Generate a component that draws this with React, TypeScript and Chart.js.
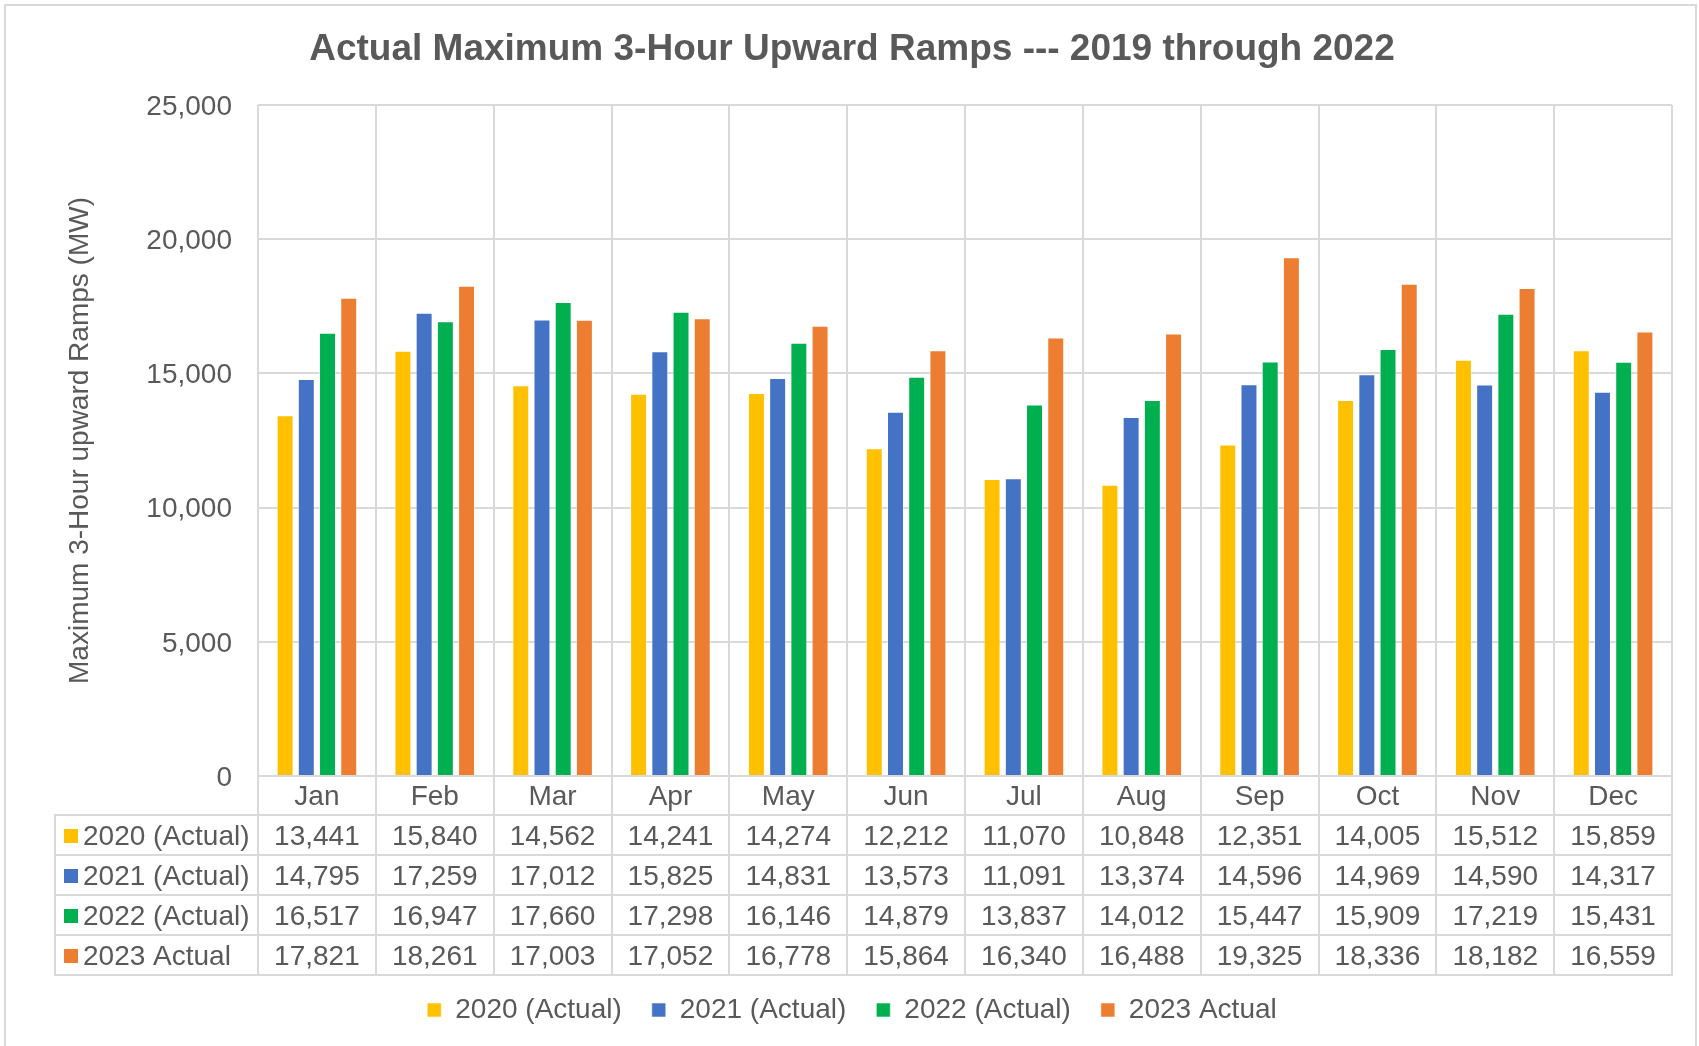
import React, { useEffect, useRef } from "react";
import { Chart, registerables } from "chart.js";

Chart.register(...registerables);

// ---------- data ----------
const MONTHS = ["Jan", "Feb", "Mar", "Apr", "May", "Jun", "Jul", "Aug", "Sep", "Oct", "Nov", "Dec"];
const SERIES_LABELS = ["2020 (Actual)", "2021 (Actual)", "2022 (Actual)", "2023 Actual"];
const VALUES_2020 = [13441, 15840, 14562, 14241, 14274, 12212, 11070, 10848, 12351, 14005, 15512, 15859];
const VALUES_2021 = [14795, 17259, 17012, 15825, 14831, 13573, 11091, 13374, 14596, 14969, 14590, 14317];
const VALUES_2022 = [16517, 16947, 17660, 17298, 16146, 14879, 13837, 14012, 15447, 15909, 17219, 15431];
const VALUES_2023 = [17821, 18261, 17003, 17052, 16778, 15864, 16340, 16488, 19325, 18336, 18182, 16559];
const Y_MIN = 0;
const Y_MAX = 25000;
const Y_STEP = 5000;
const TITLE = "Actual Maximum 3-Hour Upward Ramps --- 2019 through 2022";
const Y_TITLE = "Maximum 3-Hour upward Ramps (MW)";

// ---------- styles ----------
const COLORS = ["#FFC000", "#4472C4", "#00B050", "#ED7D31"];
const ALL_VALUES = [VALUES_2020, VALUES_2021, VALUES_2022, VALUES_2023];
const W = 1699;
const H = 1046;
const FONT = "'Liberation Sans', Arial, Helvetica, sans-serif";
const TEXT = "#595959";
const GRID = "#D9D9D9";
const FS = 28;
const CAT_ROW_H = 39;
const ROW_H = 40;
const TABLE_LEFT = 55;
const KEY_X = 64;
const KEY_SIZE = 14;

const fmt = (v: number) => v.toLocaleString("en-US");

const tablePlugin = {
  id: "dataTable",
  afterDraw(chart: any) {
    const { ctx, chartArea } = chart;
    const xs = chart.scales.x;
    const n = MONTHS.length;
    const step = (chartArea.right - chartArea.left) / n;
    const centers = MONTHS.map((_, i) => xs.getPixelForValue(i));
    const bounds = [centers[0] - step / 2, ...centers.map((c: number) => c + step / 2)];
    const top = chartArea.bottom;
    const tableTop = top + CAT_ROW_H;
    const tableBottom = tableTop + ALL_VALUES.length * ROW_H;

    ctx.save();
    ctx.strokeStyle = GRID;
    ctx.lineWidth = 2;
    const line = (x1: number, y1: number, x2: number, y2: number) => {
      ctx.beginPath();
      ctx.moveTo(x1, y1);
      ctx.lineTo(x2, y2);
      ctx.stroke();
    };
    bounds.forEach((b: number) => line(Math.round(b), top, Math.round(b), tableBottom + 1));
    for (let r = 0; r <= ALL_VALUES.length; r++) {
      const y = Math.round(tableTop + r * ROW_H);
      line(TABLE_LEFT - 1, y, Math.round(bounds[n]) + 1, y);
    }
    line(TABLE_LEFT, tableTop, TABLE_LEFT, tableBottom + 1);

    // outer chart border
    ctx.strokeRect(5, 5, W - 8, H + 20);

    ctx.font = `${FS}px ${FONT}`;
    ctx.textBaseline = "middle";
    ALL_VALUES.forEach((vals, r) => {
      const cy = tableTop + r * ROW_H + ROW_H / 2;
      ctx.fillStyle = TEXT;
      ctx.textAlign = "center";
      vals.forEach((v, i) => ctx.fillText(fmt(v), centers[i], cy + 2));
      ctx.fillStyle = COLORS[r];
      ctx.fillRect(KEY_X, cy - KEY_SIZE / 2 + 1, KEY_SIZE, KEY_SIZE);
      ctx.fillStyle = TEXT;
      ctx.textAlign = "left";
      ctx.fillText(SERIES_LABELS[r], KEY_X + KEY_SIZE + 5, cy + 2);
    });
    ctx.restore();
  },
};

export default function App() {
  const ref = useRef<HTMLCanvasElement>(null);

  useEffect(() => {
    if (!ref.current) return;
    Chart.defaults.font.family = FONT;
    Chart.defaults.color = TEXT;
    const chart = new Chart(ref.current, {
      type: "bar",
      data: {
        labels: MONTHS,
        datasets: ALL_VALUES.map((vals, i) => ({
          label: SERIES_LABELS[i],
          data: vals,
          backgroundColor: COLORS[i],
          borderColor: "rgba(255,255,255,0.55)",
          borderWidth: 1,
          categoryPercentage: 0.72,
          barPercentage: 0.8,
        })),
      },
      options: {
        responsive: false,
        animation: false,
        layout: { padding: { left: 32, right: 27, top: 5, bottom: 12 } },
        plugins: {
          title: {
            display: true,
            text: TITLE,
            color: TEXT,
            font: { size: 37, weight: "bold", family: FONT },
            padding: { top: 23, bottom: 32.6 },
          },
          legend: {
            position: "bottom",
            labels: {
              color: TEXT,
              font: { size: FS, family: FONT },
              boxWidth: 14,
              boxHeight: 14,
              padding: 30,
            },
          },
          tooltip: { enabled: false },
        },
        scales: {
          x: {
            grid: { color: GRID, lineWidth: 2, offset: true, drawTicks: false },
            border: { display: false },
            ticks: { color: TEXT, font: { size: FS, family: FONT }, padding: 4, maxRotation: 0, autoSkip: false },
            afterFit: (scale: any) => {
              scale.height = 190;
            },
          },
          y: {
            min: Y_MIN,
            max: Y_MAX,
            grid: { color: GRID, lineWidth: 2, drawTicks: false },
            border: { display: false },
            ticks: {
              stepSize: Y_STEP,
              color: TEXT,
              font: { size: FS, family: FONT },
              padding: 26,
              labelOffset: 2,
              callback: (v: any) => fmt(Number(v)),
            },
            title: {
              display: true,
              text: Y_TITLE,
              color: TEXT,
              font: { size: FS, family: FONT },
              padding: { top: 31, bottom: 0 },
            },
            afterFit: (scale: any) => {
              scale.width = 226;
            },
          },
        },
      },
      plugins: [tablePlugin],
    } as any);
    return () => chart.destroy();
  }, []);

  return (
    <div style={{ position: "absolute", left: 0, top: 0, width: W, height: H, background: "#fff", overflow: "hidden" }}>
      <canvas ref={ref} width={W} height={H} style={{ display: "block", width: W, height: H }} />
    </div>
  );
}
